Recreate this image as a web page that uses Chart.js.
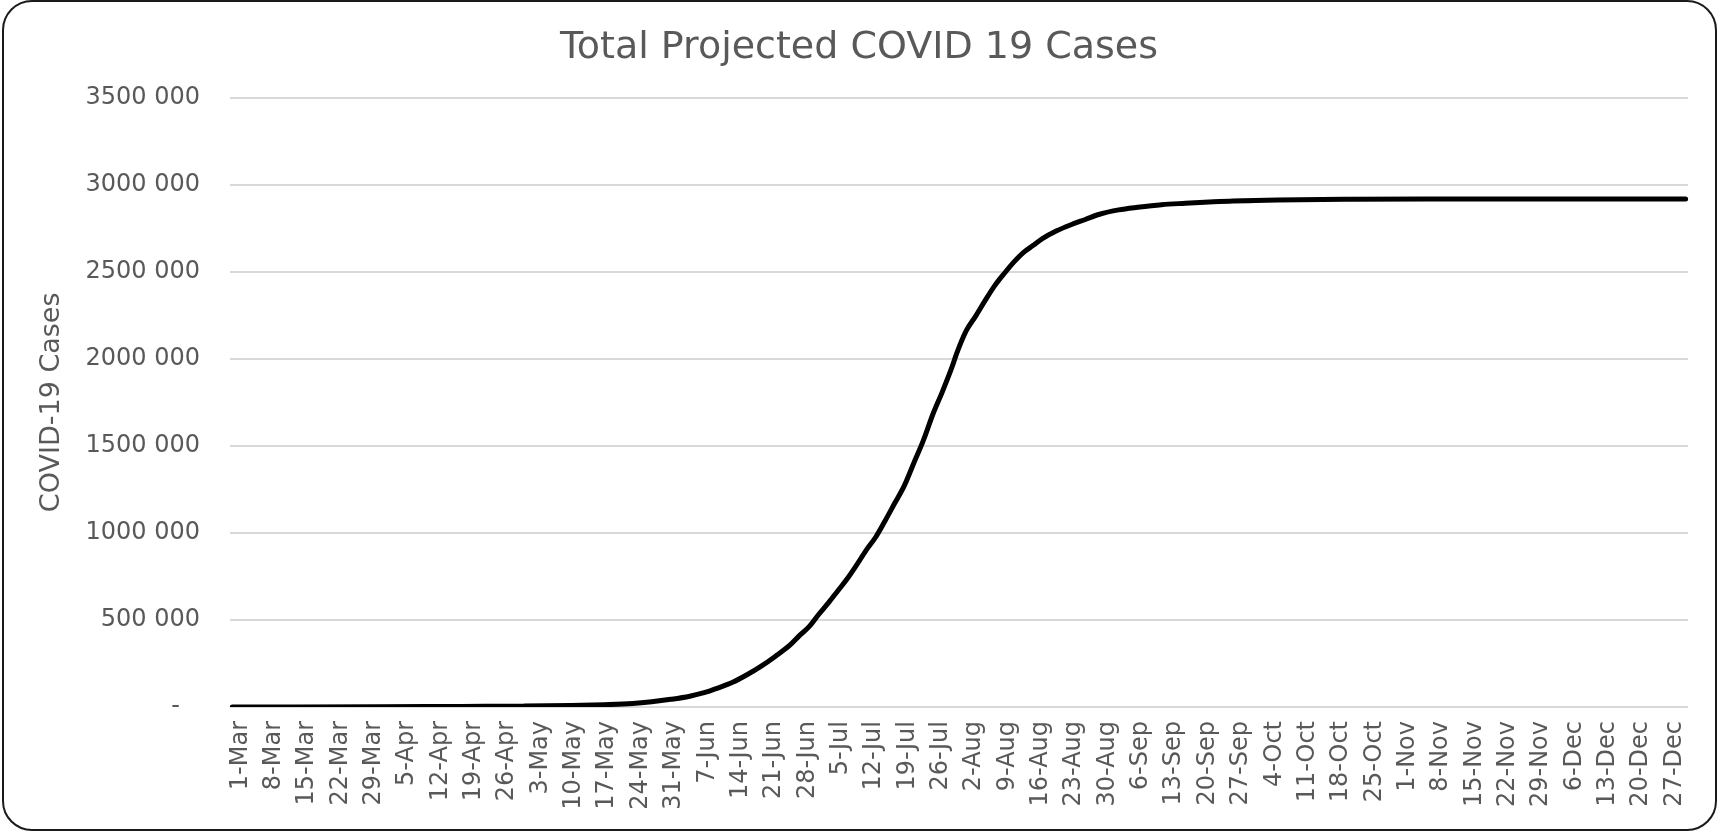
<!DOCTYPE html>
<html>
<head>
<meta charset="utf-8">
<script src="https://cdn.jsdelivr.net/npm/chart.js@4"></script>
<style>
  html, body { margin: 0; padding: 0; background: #fff; }
  #wrap { position: absolute; left: 0; top: 0; width: 1719px; height: 832px; }
  #frame { position: absolute; left: 2px; top: 0px; width: 1711px; height: 827px;
           border: 2px solid #1a1a1a; border-radius: 30px; pointer-events: none; }
</style>
</head>
<body>
<div id="wrap"><canvas id="c"></canvas></div>
<div id="frame"></div>
<script>
// ---- data ----
const monthNames = ['Mar','Apr','May','Jun','Jul','Aug','Sep','Oct','Nov','Dec'];
const monthLengths = [31,30,31,30,31,31,30,31,30,31];

// values (date -> total projected cases)
const sampleDates = ['1-Mar','15-Mar','1-Apr','18-Apr','1-May','11-May','18-May','24-May','28-May',
  '1-Jun','5-Jun','8-Jun','11-Jun','14-Jun','17-Jun','20-Jun','23-Jun','26-Jun','28-Jun','30-Jun',
  '2-Jul','4-Jul','6-Jul','8-Jul','10-Jul','12-Jul','14-Jul','16-Jul','18-Jul','20-Jul','22-Jul',
  '24-Jul','26-Jul','28-Jul','30-Jul','31-Jul','2-Aug','4-Aug','6-Aug','8-Aug','10-Aug','12-Aug',
  '14-Aug','16-Aug','18-Aug','21-Aug','24-Aug','27-Aug','30-Aug','3-Sep','7-Sep','12-Sep','17-Sep',
  '22-Sep','27-Sep','4-Oct','11-Oct','22-Oct','16-Nov','31-Dec'];
const sampleCases = [0,100,1000,3500,5000,8000,13000,20000,30000,
  44000,62000,82000,110000,142000,185000,235000,292000,355000,410000,460000,
  530000,595000,665000,735000,815000,900000,975000,1070000,1170000,1270000,1400000,
  1530000,1680000,1810000,1950000,2030000,2160000,2245000,2335000,2420000,2490000,2555000,
  2610000,2650000,2690000,2735000,2770000,2800000,2830000,2855000,2870000,2885000,2893000,
  2900000,2906000,2910000,2914000,2916000,2917000,2917000];

const yTickMin = 0, yTickMax = 3500000, yTickStep = 500000;

// ---- build categories (every day 1-Mar .. 31-Dec) ----
const categories = [];
monthNames.forEach((m, i) => { for (let d = 1; d <= monthLengths[i]; d++) categories.push(d + '-' + m); });
const points = sampleDates.map((d, i) => ({ x: d, y: sampleCases[i] }));

const font = 'DejaVu Sans';
const txt = '#595959';

new Chart(document.getElementById('c'), {
  type: 'line',
  data: {
    labels: categories,
    datasets: [{
      data: points,
      borderColor: '#000',
      borderWidth: 5,
      borderCapStyle: 'round',
      pointRadius: 0,
      cubicInterpolationMode: 'monotone',
      fill: false
    }]
  },
  options: {
    responsive: true,
    maintainAspectRatio: false,
    animation: false,
    layout: { padding: { top: 25, right: 31, left: 30, bottom: 0 } },
    plugins: {
      legend: { display: false },
      tooltip: { enabled: false },
      title: {
        display: true,
        text: 'Total Projected COVID 19 Cases',
        color: txt,
        font: { family: font, size: 38, weight: 'normal' },
        padding: { top: 0, bottom: 27 }
      }
    },
    scales: {
      x: {
        type: 'category',
        offset: true,
        grid: { display: false, drawTicks: false },
        border: { display: false },
        afterFit: (s) => { s.height = 125; },
        ticks: {
          autoSkip: false,
          minRotation: 90,
          maxRotation: 90,
          padding: 14,
          labelOffset: 8,
          color: txt,
          font: { family: font, size: 24 },
          callback: function (v, i) { return i % 7 === 0 ? this.getLabelForValue(v) : null; }
        }
      },
      y: {
        min: yTickMin,
        max: yTickMax,
        afterFit: (s) => { s.width = 200; },
        grid: { color: '#d9d9d9', lineWidth: 2, drawTicks: false },
        border: { display: false },
        title: {
          display: true,
          text: 'COVID-19 Cases',
          color: txt,
          font: { family: font, size: 27, weight: 'normal' },
          padding: { top: 6, bottom: 0 }
        },
        ticks: {
          stepSize: yTickStep,
          padding: 30,
          color: txt,
          font: { family: font, size: 24 },
          callback: (v) => v === 0 ? '-  \u2009' : (v / 1000) + ' 000'
        }
      }
    }
  }
});
</script>
</body>
</html>
